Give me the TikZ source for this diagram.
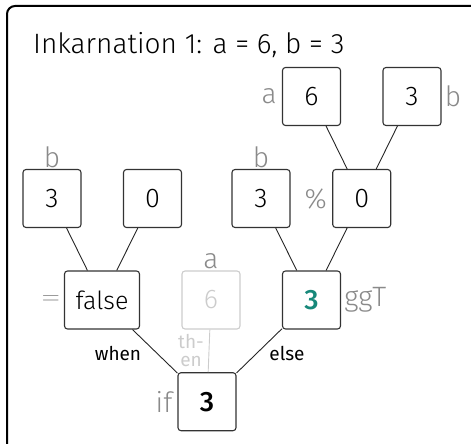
\documentclass[tikz,border=0pt]{standalone}
\usepackage{fontspec}
\setmainfont{Fira Sans Light}[BoldFont={Fira Sans Medium}]
\newfontfamily\firareg{Fira Sans}
\definecolor{lbl}{HTML}{8A8A8A}
\definecolor{fade}{HTML}{CCCCCC}
\definecolor{tealc}{HTML}{17887A}
\definecolor{boxc}{HTML}{333333}
\begin{document}
\begin{tikzpicture}[x=1pt,y=-1pt,
  valbox/.style={draw=boxc,line width=1.1pt,rounded corners=3pt,minimum width=58pt,minimum height=58pt,inner sep=0pt,font=\fontsize{27}{29}\selectfont},
  fadebox/.style={valbox,draw=fade,text=fade},
  lab/.style={text=lbl,inner sep=1pt,font=\fontsize{28}{30}\selectfont},
  elab/.style={inner sep=0pt,font=\firareg\fontsize{19}{20}\selectfont},
  conn/.style={draw=black!85,line width=0.9pt},
  every label/.style={lab}]
\useasboundingbox (0,0) rectangle (471,444);
\draw[line width=2pt,rounded corners=8pt] (7,6) rectangle (490,460);
\node[anchor=base west,inner sep=0pt,font=\fontsize{28}{30}\selectfont] (title) at (33,54) {Inkarnation 1: a = 6, b = 3};
% row 1
\node[valbox,label={[label distance=4pt]left:a}] (r1a) at (311.5,96.5) {6};
\node[valbox,label={[label distance=2pt]right:b}] (r1b) at (412,96.5) {3};
% row 2
\node[valbox,label={[label distance=0pt]above:b}] (r2a) at (52,198.5) {3};
\node[valbox] (r2b) at (152.5,198.5) {0};
\node[valbox,label={[label distance=0pt]above:b}] (r2c) at (261,198.5) {3};
\node[valbox,label={[label distance=4pt]left:\%}] (r2d) at (361.7,198.5) {0};
% row 3
\node[valbox,minimum width=75pt,font=\fontsize{25}{27}\selectfont,label={[label distance=3pt]left:{\fontsize{26}{28}\selectfont$=$}}] (r3a) at (102,300) {false};
\node[fadebox,label={[label distance=0pt]above:a}] (r3b) at (211,300) {6};
\node[valbox,text=tealc,font=\fontsize{28}{30}\selectfont\bfseries,label={[label distance=2pt]right:ggT}] (r3c) at (311.5,300) {3};
% row 4
\node[valbox,font=\fontsize{28}{30}\selectfont\bfseries,label={[label distance=4pt]left:if}] (r4) at (207,401.7) {3};
% connectors
\draw[conn] (r1a) -- (r2d);
\draw[conn] (r1b) -- (r2d);
\draw[conn] (r2a) -- (r3a);
\draw[conn] (r2b) -- (r3a);
\draw[conn] (r2c) -- (r3c);
\draw[conn] (r2d) -- (r3c);
\draw[conn] (r3a) -- (r4);
\draw[conn,draw=fade] (r3b) -- (r4);
\draw[conn] (r3c) -- (r4);
% edge labels
\node[elab] (when) at (118,354) {when};
\node[elab] (else) at (287,353) {else};
\node[elab,text=fade,align=center,font=\firareg\fontsize{19}{18}\selectfont] (then) at (191,351) {th-\\en};
\end{tikzpicture}
\end{document}
